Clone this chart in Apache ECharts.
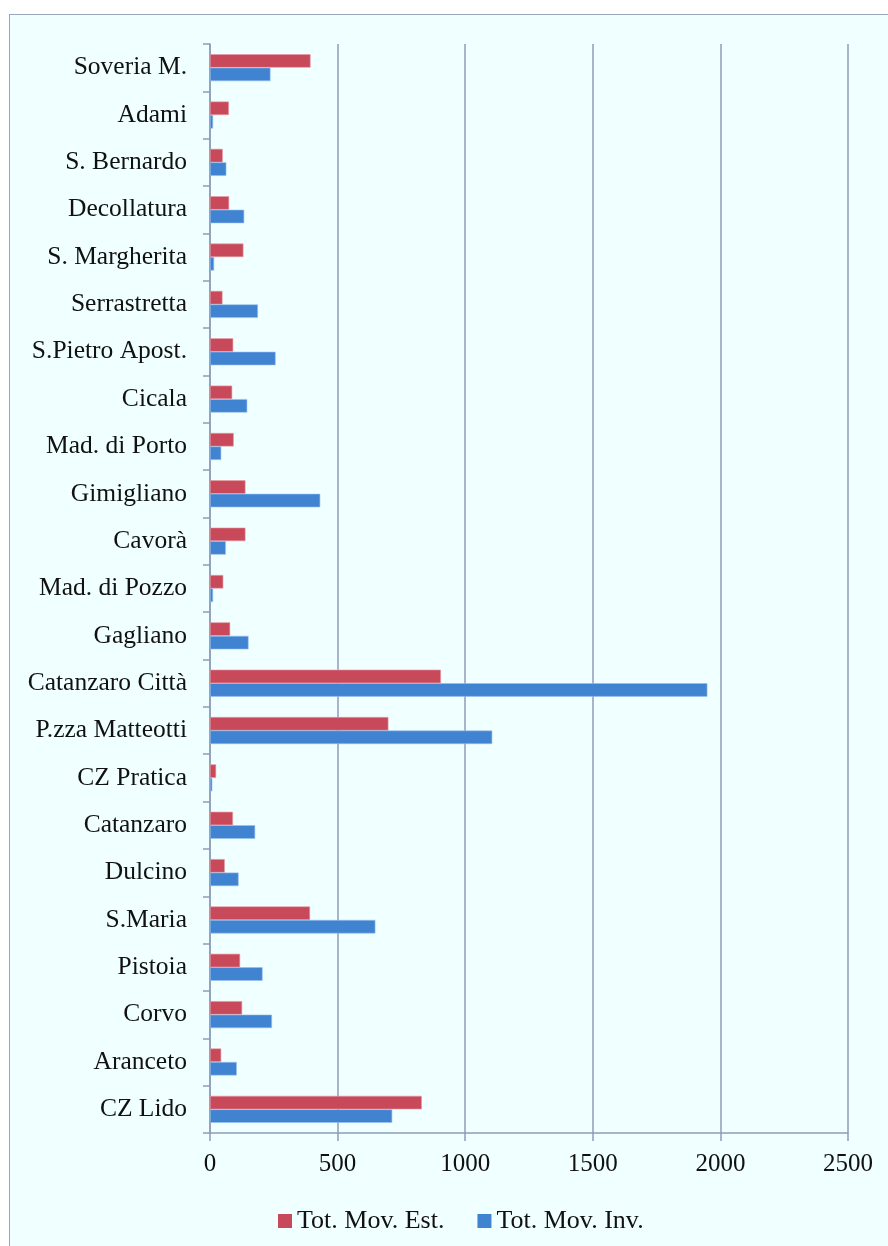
<!DOCTYPE html>
<html>
<head>
<meta charset="utf-8">
<script src="https://cdn.jsdelivr.net/npm/echarts@6/dist/echarts.min.js"></script>
<style>
  html, body { margin: 0; padding: 0; background: #ffffff; }
  #frame { position: absolute; left: 9px; top: 14px; width: 920px; height: 1260px;
           background: #F0FFFF; border: 1.5px solid #9AA6BE; box-sizing: border-box; }
  #chart { position: absolute; left: 0; top: 0; width: 888px; height: 1246px; }
</style>
</head>
<body>
<div id="frame"></div>
<div id="chart"></div>
<script>
// Categories listed top to bottom as displayed
const categories = ["Soveria M.", "Adami", "S. Bernardo", "Decollatura", "S. Margherita",
  "Serrastretta", "S.Pietro Apost.", "Cicala", "Mad. di Porto", "Gimigliano", "Cavorà",
  "Mad. di Pozzo", "Gagliano", "Catanzaro Città", "P.zza Matteotti", "CZ Pratica",
  "Catanzaro", "Dulcino", "S.Maria", "Pistoia", "Corvo", "Aranceto", "CZ Lido"];
const seriesNames = ["Tot. Mov. Est.", "Tot. Mov. Inv."];
const movEst = [394, 74, 50, 75, 131, 49, 91, 87, 93, 139, 139, 52, 79, 905, 699, 24,
  90, 58, 392, 118, 126, 44, 830];
const movInv = [237, 12, 64, 134, 16, 188, 257, 146, 44, 432, 62, 12, 151, 1949, 1106, 9,
  177, 112, 648, 206, 243, 105, 714];
const xTicks = [0, 500, 1000, 1500, 2000, 2500];

const FONT = "'Liberation Serif', 'DejaVu Serif', serif";
const AXIS = '#8E9CB8';
const chart = echarts.init(document.getElementById('chart'), null, { renderer: 'canvas' });
chart.setOption({
  backgroundColor: 'transparent',
  animation: false,
  textStyle: { fontFamily: FONT, color: '#111111' },
  grid: { left: 210, right: 40, top: 44, bottom: 113, containLabel: false },
  legend: {
    data: seriesNames,
    left: 273, top: 1203,
    icon: 'rect', itemWidth: 14, itemHeight: 14, itemGap: 33,
    itemStyle: { borderWidth: 0 },
    textStyle: { fontFamily: FONT, fontSize: 26, color: '#111111', padding: [0, 0, 0, 0] }
  },
  xAxis: {
    type: 'value', min: xTicks[0], max: xTicks[xTicks.length - 1], interval: 500,
    axisLine: { show: true, lineStyle: { color: AXIS, width: 1.5 } },
    axisTick: { show: true, length: 8, lineStyle: { color: AXIS, width: 1.5 } },
    splitLine: { show: true, lineStyle: { color: AXIS, width: 1.5 } },
    axisLabel: { fontFamily: FONT, fontSize: 25, color: '#111111', margin: 19,
                 formatter: v => String(v) }
  },
  yAxis: {
    type: 'category', data: categories, inverse: true,
    axisLine: { show: true, lineStyle: { color: AXIS, width: 1.5 } },
    axisTick: { show: true, length: 7, lineStyle: { color: AXIS, width: 1.5 } },
    axisLabel: { fontFamily: FONT, fontSize: 25.5, color: '#111111', margin: 23 }
  },
  series: [
    { name: seriesNames[0], type: 'bar', data: movEst, barWidth: 13.5, barGap: '0%',
      itemStyle: { color: '#C84A5A', borderColor: '#E59AA2', borderWidth: 0.6 } },
    { name: seriesNames[1], type: 'bar', data: movInv, barWidth: 13.5, barGap: '0%',
      itemStyle: { color: '#3F83D1', borderColor: '#9CC0EC', borderWidth: 0.6 } }
  ]
});
</script>
</body>
</html>
